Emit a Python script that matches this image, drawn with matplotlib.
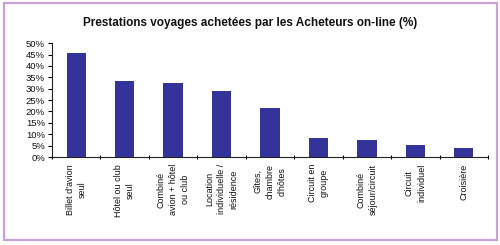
import matplotlib.pyplot as plt
from matplotlib.patches import Rectangle
import numpy as np

plt.rcParams['font.family'] = ['Liberation Sans', 'DejaVu Sans']

title = "Prestations voyages achetées par les Acheteurs on-line (%)"
categories = [
    "Billet d'avion\nseul",
    "Hôtel ou club\nseul",
    "Combiné\navion + hôtel\nou club",
    "Location\nindividuelle /\nrésidence",
    "Gîtes,\nchambre\nd'hôtes",
    "Circuit en\ngroupe",
    "Combiné\nséjour/circuit",
    "Circuit\nindividuel",
    "Croisière",
]
values = [45.5, 33.5, 32.7, 29.0, 21.5, 8.2, 7.7, 5.4, 3.9]
y_ticks = [0, 5, 10, 15, 20, 25, 30, 35, 40, 45, 50]
y_labels = [f"{v}%" for v in y_ticks]

fig = plt.figure(figsize=(5.0, 2.45), dpi=100)
fig.patches.append(Rectangle((0.007, 0.02), 0.986, 0.968, transform=fig.transFigure,
                             fill=False, edgecolor="#c8a2d4", linewidth=1.6))

ax = fig.add_axes([0.104, 0.359, 0.872, 0.465])
x = np.arange(len(values))
ax.bar(x, values, width=0.4, color="#333399")

ax.set_xlim(-0.5, len(values) - 0.5)
ax.set_ylim(0, 50)
ax.set_yticks(y_ticks)
ax.set_yticklabels(y_labels, fontsize=6.8, color="#111111")
ax.set_xticks(x)
ax.set_xticklabels(categories, rotation=90, fontsize=6.5, ha="center", va="top",
                   multialignment="center", linespacing=1.45, color="#111111")
ax.tick_params(axis="x", which="major", length=0, pad=5)
ax.set_xticks(np.arange(-0.5, len(values), 1.0), minor=True)
ax.tick_params(axis="x", which="minor", length=3, direction="inout", width=0.8)
ax.tick_params(axis="y", length=3, width=0.8, pad=2)

for s in ["top", "right"]:
    ax.spines[s].set_visible(False)
for s in ["left", "bottom"]:
    ax.spines[s].set_linewidth(0.8)
    ax.spines[s].set_color("#222222")

fig.text(0.5, 0.905, title, ha="center", va="center", fontsize=8.5,
         fontweight="bold", color="#111111")

fig.savefig("out.png", dpi=100)
